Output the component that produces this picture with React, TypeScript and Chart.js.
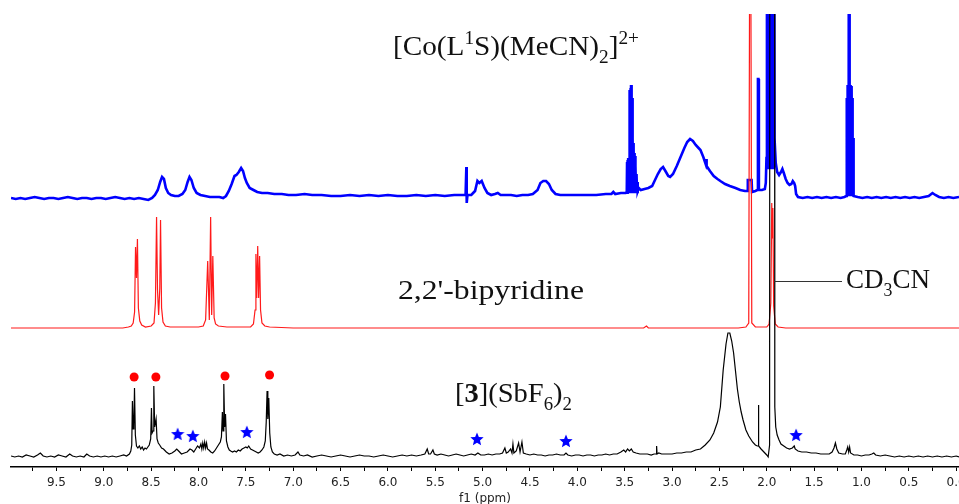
import { useEffect, useRef } from 'react';
import { Chart, registerables } from 'chart.js';

Chart.register(...registerables);

// Chemical-shift axis (ppm), drawn high → low
const PPM_MIN = -0.03;
const PPM_MAX = 9.98;
const TICK_VALUES = [
  9.75, 9.5, 9.25, 9.0, 8.75, 8.5, 8.25, 8.0, 7.75, 7.5, 7.25, 7.0, 6.75, 6.5, 6.25, 6.0,
  5.75, 5.5, 5.25, 5.0, 4.75, 4.5, 4.25, 4.0, 3.75, 3.5, 3.25, 3.0, 2.75, 2.5, 2.25, 2.0,
  1.75, 1.5, 1.25, 1.0, 0.75, 0.5, 0.25, 0.0,
];
const LABELLED_TICKS = [9.5, 9.0, 8.5, 8.0, 7.5, 7.0, 6.5, 6.0, 5.5, 5.0, 4.5, 4.0, 3.5, 3.0, 2.5, 2.0, 1.5, 1.0, 0.5, 0.0];

// [ppm, intensity] — [Co(L1S)(MeCN)2]2+
const COMPLEX_SPECTRUM: [number, number][] = [
  [9.98, 0], [9.93, -1], [9.88, 0], [9.83, -1], [9.78, 0], [9.73, 1], [9.68, 0], [9.63, -1], [9.58, 0],
  [9.53, 0], [9.48, -1], [9.43, 0], [9.38, 1], [9.33, 0], [9.28, -1], [9.23, 0], [9.18, 0], [9.13, -1],
  [9.08, 0], [9.03, 0], [8.98, -1], [8.93, 0], [8.88, 1], [8.83, 0], [8.78, -1], [8.73, 0], [8.68, -1],
  [8.63, 0], [8.58, -1], [8.53, -2], [8.49, 0], [8.46, 3], [8.43, 8], [8.405, 16], [8.385, 21], [8.365, 19],
  [8.345, 10], [8.32, 5], [8.29, 3], [8.25, 2], [8.21, 2], [8.17, 4], [8.14, 8], [8.115, 16], [8.095, 21],
  [8.075, 18], [8.05, 10], [8.02, 5], [7.98, 3], [7.93, 2], [7.88, 1], [7.83, 1], [7.78, 1], [7.74, 0],
  [7.71, 2], [7.68, 7], [7.65, 14], [7.62, 22], [7.6, 23], [7.575, 26], [7.55, 30], [7.53, 27], [7.51, 20],
  [7.49, 15], [7.46, 10], [7.42, 8], [7.38, 6], [7.33, 5], [7.27, 5], [7.2, 4], [7.12, 4], [7.05, 3],
  [6.97, 3], [6.88, 4], [6.8, 3], [6.7, 3], [6.6, 2], [6.5, 2], [6.4, 3], [6.3, 2], [6.2, 3], [6.1, 2],
  [6.0, 3], [5.9, 2], [5.8, 2], [5.7, 3], [5.6, 2], [5.5, 3], [5.4, 2], [5.3, 3], [5.22, 3], [5.18, 3],
  [5.172, 31], [5.168, -5], [5.16, 3], [5.12, 3], [5.08, 7], [5.055, 17], [5.035, 15], [5.01, 17],
  [4.98, 10], [4.95, 5], [4.91, 3], [4.87, 4], [4.84, 5], [4.81, 3], [4.76, 3], [4.7, 3], [4.64, 2],
  [4.58, 3], [4.52, 3], [4.47, 4], [4.42, 8], [4.39, 15], [4.36, 17], [4.33, 17], [4.3, 14], [4.27, 8],
  [4.23, 4], [4.18, 3], [4.1, 3], [4.0, 3], [3.9, 3], [3.8, 3], [3.7, 4], [3.64, 4], [3.62, 6], [3.6, 4],
  [3.54, 5], [3.49, 5], [3.478, 6], [3.475, 36], [3.472, 4], [3.469, 38], [3.466, 5], [3.463, 40],
  [3.46, 5], [3.457, 40], [3.454, 6], [3.451, 108], [3.448, 6], [3.445, 108], [3.442, 6],
  [3.439, 110], [3.436, 6], [3.433, 113], [3.43, 6], [3.427, 113], [3.424, 6], [3.421, 100],
  [3.418, 6], [3.415, 60], [3.412, 6], [3.409, 55], [3.406, 6], [3.403, 50], [3.4, 6], [3.397, 45],
  [3.394, 6], [3.391, 42], [3.388, 6], [3.385, 32], [3.38, 6], [3.375, 24], [3.37, 6], [3.365, 16],
  [3.36, 7], [3.352, 10], [3.342, 9], [3.33, 8], [3.29, 9], [3.25, 10], [3.21, 12], [3.18, 18],
  [3.15, 24], [3.12, 29], [3.095, 31], [3.07, 27], [3.04, 22], [3.02, 21], [2.99, 24], [2.95, 32],
  [2.91, 41], [2.87, 50], [2.84, 56], [2.81, 59], [2.78, 57], [2.75, 53], [2.72, 50], [2.7, 48],
  [2.67, 41], [2.645, 34], [2.64, 39], [2.635, 32], [2.6, 27], [2.56, 22], [2.52, 19], [2.49, 17],
  [2.44, 14], [2.39, 12], [2.33, 10], [2.28, 8], [2.23, 7], [2.205, 7], [2.2, 18], [2.16, 18], [2.155, 6],
  [2.12, 7], [2.1, 8], [2.093, 119], [2.088, 119], [2.083, 8], [2.05, 8], [2.02, 9], [2.01, 15],
  [2.003, 40], [1.998, 600], [1.993, 30], [1.988, 600], [1.983, 30], [1.978, 600], [1.973, 30],
  [1.968, 600], [1.963, 30], [1.958, 600], [1.953, 30], [1.948, 600], [1.943, 30], [1.938, 600],
  [1.933, 30], [1.928, 600], [1.918, 60], [1.905, 35], [1.89, 26], [1.87, 23], [1.85, 26],
  [1.835, 29], [1.82, 25], [1.8, 19], [1.78, 15], [1.76, 13], [1.74, 14], [1.725, 17], [1.71, 15],
  [1.7, 12], [1.69, 4], [1.67, 1], [1.62, 0], [1.57, 1], [1.52, 0], [1.47, 1], [1.42, 0], [1.37, 1],
  [1.32, 0], [1.27, 1], [1.22, 0], [1.18, 1], [1.16, 2], [1.155, 100], [1.152, 3], [1.149, 112],
  [1.146, 3], [1.143, 113], [1.14, 3], [1.137, 113], [1.134, 3], [1.131, 600], [1.128, 3],
  [1.125, 113], [1.122, 3], [1.119, 113], [1.116, 3], [1.113, 113], [1.11, 3], [1.107, 112],
  [1.104, 3], [1.101, 110], [1.098, 3], [1.095, 100], [1.092, 3], [1.089, 60], [1.086, 3], [1.08, 2],
  [1.04, 1], [0.99, 0], [0.94, 1], [0.89, 0], [0.84, 1], [0.79, 0], [0.74, 1], [0.69, 0], [0.64, 1],
  [0.59, 0], [0.54, 1], [0.49, 0], [0.44, 1], [0.39, 0], [0.34, 1], [0.29, 2], [0.25, 5], [0.22, 3],
  [0.18, 1], [0.13, 0], [0.08, 1], [0.03, 0], [-0.03, 1],
];

// [ppm, intensity] — free 2,2'-bipyridine
const BIPY_SPECTRUM: [number, number][] = [
  [9.98, 0], [8.8, 0], [8.74, 1], [8.71, 2], [8.69, 5], [8.675, 16], [8.665, 81], [8.655, 50],
  [8.645, 89], [8.635, 20], [8.62, 7], [8.6, 3], [8.56, 1], [8.5, 2], [8.47, 5], [8.455, 25],
  [8.443, 111], [8.433, 38], [8.421, 13], [8.409, 40], [8.401, 108], [8.39, 20], [8.375, 6], [8.35, 2],
  [8.3, 1], [8.0, 1], [7.95, 2], [7.925, 8], [7.903, 67], [7.886, 8], [7.872, 111], [7.861, 13],
  [7.849, 72], [7.835, 10], [7.82, 4], [7.79, 2], [7.7, 1], [7.45, 1], [7.42, 4], [7.403, 18],
  [7.394, 74], [7.385, 30], [7.375, 82], [7.365, 30], [7.355, 72], [7.345, 18], [7.33, 5], [7.3, 2],
  [7.25, 1], [7.0, 0], [5.0, 0], [3.3, 0], [3.27, 2], [3.25, 0], [2.3, 0], [2.22, 1], [2.19, 5],
  [2.175, 600], [2.171, 600], [2.158, 5], [2.12, 1], [2.0, 1], [1.975, 4], [1.957, 25], [1.947, 125],
  [1.941, 90], [1.935, 120], [1.927, 22], [1.91, 4], [1.88, 1], [1.8, 0], [-0.03, 0],
];

// [ppm, intensity] — [3](SbF6)2
const SBF6_SPECTRUM: [number, number][] = [
  [9.98, 1], [9.94, 0], [9.9, 1], [9.86, 0], [9.82, 2], [9.78, 1], [9.74, 0], [9.7, 2], [9.67, 4],
  [9.64, 1], [9.6, 0], [9.56, 1], [9.52, 0], [9.48, 2], [9.44, 1], [9.4, 0], [9.36, 3], [9.33, 1],
  [9.29, 0], [9.25, 1], [9.21, 0], [9.18, 3], [9.15, 1], [9.11, 0], [9.07, 1], [9.03, 0], [8.99, 1],
  [8.95, 0], [8.91, 1], [8.87, 0], [8.83, 1], [8.79, 2], [8.76, 1], [8.73, 3], [8.715, 6], [8.705, 12],
  [8.698, 56], [8.69, 28], [8.683, 30], [8.676, 69], [8.667, 22], [8.655, 11], [8.64, 9], [8.625, 11],
  [8.61, 8], [8.595, 10], [8.58, 7], [8.565, 9], [8.55, 8], [8.535, 10], [8.52, 12], [8.505, 18],
  [8.497, 49], [8.49, 24], [8.48, 26], [8.472, 71], [8.463, 30], [8.448, 38], [8.438, 18], [8.425, 14],
  [8.41, 12], [8.39, 9], [8.37, 8], [8.34, 5], [8.31, 3], [8.28, 4], [8.25, 6], [8.23, 8], [8.21, 6],
  [8.18, 3], [8.15, 4], [8.12, 5], [8.09, 8], [8.07, 7], [8.05, 5], [8.03, 8], [8.01, 11], [7.99, 9],
  [7.975, 13], [7.965, 8], [7.955, 14], [7.945, 9], [7.935, 15], [7.925, 9], [7.915, 14], [7.905, 8],
  [7.89, 7], [7.87, 5], [7.85, 4], [7.83, 6], [7.81, 9], [7.79, 12], [7.77, 15], [7.758, 20],
  [7.748, 45], [7.741, 26], [7.733, 73], [7.724, 30], [7.715, 43], [7.705, 16], [7.69, 10], [7.675, 7],
  [7.66, 6], [7.64, 5], [7.62, 6], [7.6, 5], [7.58, 7], [7.56, 6], [7.54, 8], [7.52, 9], [7.5, 10],
  [7.485, 9], [7.47, 11], [7.45, 8], [7.43, 7], [7.41, 6], [7.39, 5], [7.37, 4], [7.35, 5], [7.33, 7],
  [7.31, 10], [7.295, 16], [7.285, 35], [7.276, 66], [7.268, 38], [7.258, 59], [7.248, 24], [7.236, 10],
  [7.22, 5], [7.2, 3], [7.17, 2], [7.14, 3], [7.1, 1], [7.06, 2], [7.02, 1], [6.98, 2], [6.95, 5],
  [6.93, 2], [6.89, 1], [6.85, 2], [6.8, 0], [6.75, 1], [6.7, 2], [6.65, 1], [6.6, 0], [6.55, 1],
  [6.5, 2], [6.45, 1], [6.4, 0], [6.35, 1], [6.3, 2], [6.25, 1], [6.2, 1], [6.15, 0], [6.1, 1],
  [6.05, 2], [6.0, 1], [5.95, 0], [5.9, 1], [5.85, 2], [5.8, 1], [5.75, 2], [5.7, 1], [5.65, 2],
  [5.61, 3], [5.585, 8], [5.57, 3], [5.55, 3], [5.525, 7], [5.51, 3], [5.48, 2], [5.44, 3], [5.4, 2],
  [5.36, 1], [5.32, 2], [5.28, 3], [5.24, 2], [5.2, 1], [5.16, 2], [5.12, 3], [5.08, 2], [5.05, 4],
  [5.02, 2], [4.98, 2], [4.94, 3], [4.9, 2], [4.86, 3], [4.82, 3], [4.79, 4], [4.765, 9], [4.75, 4],
  [4.73, 5], [4.705, 8], [4.69, 4], [4.68, 13], [4.67, 4], [4.645, 6], [4.62, 14], [4.605, 5],
  [4.585, 15], [4.57, 4], [4.54, 3], [4.5, 2], [4.46, 3], [4.42, 2], [4.38, 2], [4.34, 1], [4.3, 2],
  [4.26, 2], [4.22, 3], [4.18, 2], [4.14, 2], [4.12, 4], [4.1, 2], [4.06, 1], [4.02, 2], [3.98, 2],
  [3.94, 1], [3.9, 2], [3.86, 2], [3.82, 1], [3.78, 2], [3.74, 2], [3.7, 3], [3.66, 2], [3.62, 3],
  [3.58, 3], [3.54, 5], [3.51, 7], [3.49, 5], [3.47, 8], [3.45, 6], [3.43, 8], [3.41, 5], [3.38, 4],
  [3.34, 3], [3.3, 3], [3.26, 3], [3.22, 2], [3.19, 3], [3.168, 3], [3.163, 11], [3.158, 3], [3.14, 4],
  [3.11, 3], [3.08, 3], [3.04, 3], [3.0, 3], [2.95, 4], [2.9, 4], [2.85, 5], [2.8, 5], [2.75, 7],
  [2.7, 8], [2.65, 12], [2.6, 17], [2.56, 24], [2.52, 35], [2.49, 50], [2.46, 87], [2.43, 113],
  [2.41, 124], [2.39, 124], [2.37, 116], [2.35, 104], [2.33, 86], [2.31, 68], [2.29, 55], [2.27, 45],
  [2.25, 37], [2.22, 27], [2.19, 21], [2.17, 18], [2.15, 15], [2.12, 12], [2.1, 11], [2.092, 11],
  [2.088, 52], [2.084, 11], [2.06, 8], [2.04, 6], [2.02, 4], [2.0, 2], [1.985, 0], [1.97, 12],
  [1.963, 1500], [1.922, 1500], [1.915, 50], [1.905, 30], [1.89, 22], [1.87, 17], [1.85, 13],
  [1.82, 11], [1.79, 9], [1.76, 8], [1.73, 9], [1.71, 11], [1.7, 8], [1.67, 6], [1.63, 5], [1.58, 5],
  [1.53, 4], [1.48, 4], [1.43, 3], [1.38, 3], [1.34, 3], [1.31, 5], [1.29, 9], [1.275, 14], [1.26, 8],
  [1.24, 4], [1.2, 3], [1.17, 3], [1.155, 7], [1.145, 10], [1.135, 5], [1.125, 10], [1.115, 4],
  [1.08, 2], [1.04, 2], [1.0, 1], [0.96, 2], [0.92, 2], [0.89, 3], [0.87, 4], [0.85, 2], [0.8, 1],
  [0.75, 2], [0.7, 1], [0.65, 0], [0.6, 1], [0.55, 0], [0.5, 1], [0.45, 0], [0.4, 1], [0.35, 0],
  [0.3, 1], [0.25, 0], [0.2, 1], [0.15, 0], [0.1, 1], [0.05, 0], [0.0, 1], [-0.03, 0],
];

// Assignment markers on the [3](SbF6)2 trace (height above its baseline)
const BIPY_MARK_PPM = [8.68, 8.45, 7.72, 7.25];
const BIPY_MARK_HEIGHT = [80, 80, 81, 82];
const IMPURITY_MARK_PPM = [8.22, 8.06, 7.49, 5.06, 4.12, 1.69];
const IMPURITY_MARK_HEIGHT = [23, 21, 25, 18, 16, 22];

// Vertical stacking of the three traces
const Y_MAX = 453;
const COMPLEX_OFFSET = 269;
const BIPY_OFFSET = 139;
const SBF6_OFFSET = 10;

type Run = { t: string; k?: 'sub' | 'sup'; b?: boolean };
type Caption = { runs: Run[]; x: number; y: number; width: number };

const CAPTIONS: Caption[] = [
  {
    runs: [{ t: '[Co(L' }, { t: '1', k: 'sup' }, { t: 'S)(MeCN)' }, { t: '2', k: 'sub' }, { t: ']' }, { t: '2+', k: 'sup' }],
    x: 393,
    y: 55,
    width: 246,
  },
  { runs: [{ t: "2,2'-bipyridine" }], x: 398, y: 299, width: 186 },
  { runs: [{ t: 'CD' }, { t: '3', k: 'sub' }, { t: 'CN' }], x: 846, y: 288, width: 84 },
  {
    runs: [{ t: '[' }, { t: '3', b: true }, { t: '](SbF' }, { t: '6', k: 'sub' }, { t: ')' }, { t: '2', k: 'sub' }],
    x: 455,
    y: 402,
    width: 117,
  },
];

const CAPTION_SIZE = 27;
const CAPTION_FONT = '"Liberation Serif", "Times New Roman", serif';
const AXIS_FONT = '"DejaVu Sans", Verdana, sans-serif';

function toPoints(spec: [number, number][], offset: number) {
  return spec.map(([x, y]) => ({ x, y: y + offset }));
}

function makeStar(size: number, color: string) {
  const c = document.createElement('canvas');
  c.width = size;
  c.height = size;
  const g = c.getContext('2d')!;
  const cx = size / 2;
  const cy = size / 2 + 0.5;
  const R = size / 2;
  const r = R * 0.45;
  g.beginPath();
  for (let i = 0; i < 10; i++) {
    const a = -Math.PI / 2 + (i * Math.PI) / 5;
    const rad = i % 2 === 0 ? R : r;
    g.lineTo(cx + rad * Math.cos(a), cy + rad * Math.sin(a));
  }
  g.closePath();
  g.fillStyle = color;
  g.fill();
  return c;
}

function fontFor(r: Run, size: number) {
  const s = r.k ? size * 0.66 : size;
  return `${r.b ? 'bold ' : ''}${s}px ${CAPTION_FONT}`;
}

function drawCaption(ctx: CanvasRenderingContext2D, c: Caption, size: number) {
  // natural width first, then stretch horizontally to the wanted width
  let natural = 0;
  for (const r of c.runs) {
    ctx.font = fontFor(r, size);
    natural += ctx.measureText(r.t).width;
  }
  ctx.save();
  ctx.translate(c.x, c.y);
  ctx.scale(c.width / natural, 1);
  let cx = 0;
  for (const r of c.runs) {
    ctx.font = fontFor(r, size);
    const dy = r.k === 'sub' ? size * 0.28 : r.k === 'sup' ? -size * 0.4 : 0;
    ctx.fillText(r.t, cx, dy);
    cx += ctx.measureText(r.t).width;
  }
  ctx.restore();
}

const captionPlugin = {
  id: 'captions',
  afterDraw(chart: Chart) {
    const ctx = chart.ctx;
    ctx.save();
    // leader from the solvent peak to its caption
    const xs = chart.scales.x;
    ctx.strokeStyle = '#333';
    ctx.lineWidth = 1;
    ctx.beginPath();
    ctx.moveTo(xs.getPixelForValue(1.92), 281.5);
    ctx.lineTo(842, 281.5);
    ctx.stroke();
    ctx.fillStyle = '#111';
    ctx.textBaseline = 'alphabetic';
    ctx.textAlign = 'left';
    for (const c of CAPTIONS) drawCaption(ctx, c, CAPTION_SIZE);
    ctx.restore();
  },
};

export default function App() {
  const ref = useRef<HTMLCanvasElement>(null);

  useEffect(() => {
    const canvas = ref.current;
    if (!canvas) return;
    const star = makeStar(14, '#0000ff');

    const chart = new Chart(canvas, {
      type: 'line',
      data: {
        datasets: [
          {
            label: 'bipyridine signals',
            data: BIPY_MARK_PPM.map((x, i) => ({ x, y: BIPY_MARK_HEIGHT[i] + SBF6_OFFSET })),
            showLine: false,
            pointStyle: 'circle',
            pointRadius: 4.5,
            pointBackgroundColor: '#ff0000',
            pointBorderWidth: 0,
            order: 0,
          },
          {
            label: 'impurity signals',
            data: IMPURITY_MARK_PPM.map((x, i) => ({ x, y: IMPURITY_MARK_HEIGHT[i] + SBF6_OFFSET })),
            showLine: false,
            pointStyle: star as any,
            pointRadius: 7,
            order: 0,
          },
          {
            label: '[3](SbF6)2',
            data: toPoints(SBF6_SPECTRUM, SBF6_OFFSET),
            borderColor: '#000000',
            borderWidth: 1.2,
            pointRadius: 0,
            order: 1,
          },
          {
            label: "2,2'-bipyridine",
            data: toPoints(BIPY_SPECTRUM, BIPY_OFFSET),
            borderColor: '#ff1a1a',
            borderWidth: 1.2,
            pointRadius: 0,
            order: 2,
          },
          {
            label: '[Co(L1S)(MeCN)2]2+',
            data: toPoints(COMPLEX_SPECTRUM, COMPLEX_OFFSET),
            borderColor: '#0000ff',
            borderWidth: 2.6,
            pointRadius: 0,
            order: 3,
          },
        ],
      },
      options: {
        animation: false,
        responsive: false,
        events: [],
        layout: { padding: { left: 11, top: 14, right: 0, bottom: 0 }, autoPadding: false },
        elements: { line: { tension: 0 } },
        plugins: { legend: { display: false }, tooltip: { enabled: false } },
        scales: {
          x: {
            type: 'linear',
            reverse: true,
            min: PPM_MIN,
            max: PPM_MAX,
            afterBuildTicks: (scale: any) => {
              scale.ticks = TICK_VALUES.map((value) => ({ value }));
            },
            afterFit: (scale: any) => {
              scale.height = 37;
              scale.paddingLeft = 0;
              scale.paddingRight = 0;
            },
            ticks: {
              autoSkip: false,
              maxRotation: 0,
              padding: 5,
              color: '#222',
              font: { family: AXIS_FONT, size: 12 },
              callback: (v: any) => (LABELLED_TICKS.includes(Number(v)) ? Number(v).toFixed(1) : ''),
            },
            grid: { drawOnChartArea: false, drawTicks: true, tickLength: 4, color: '#000', lineWidth: 1 },
            border: { display: true, color: '#000', width: 1.5 },
            title: {
              display: true,
              text: 'f1 (ppm)',
              color: '#222',
              font: { family: AXIS_FONT, size: 12 },
              padding: { top: 0, bottom: -2 },
            },
          },
          y: { display: false, min: 0, max: Y_MAX },
        },
      },
      plugins: [captionPlugin],
    });

    return () => chart.destroy();
  }, []);

  return (
    <div style={{ position: 'fixed', left: 0, top: 0, width: 959, height: 504, background: '#fff' }}>
      <canvas ref={ref} width={959} height={504} style={{ display: 'block', width: 959, height: 504 }} />
    </div>
  );
}
